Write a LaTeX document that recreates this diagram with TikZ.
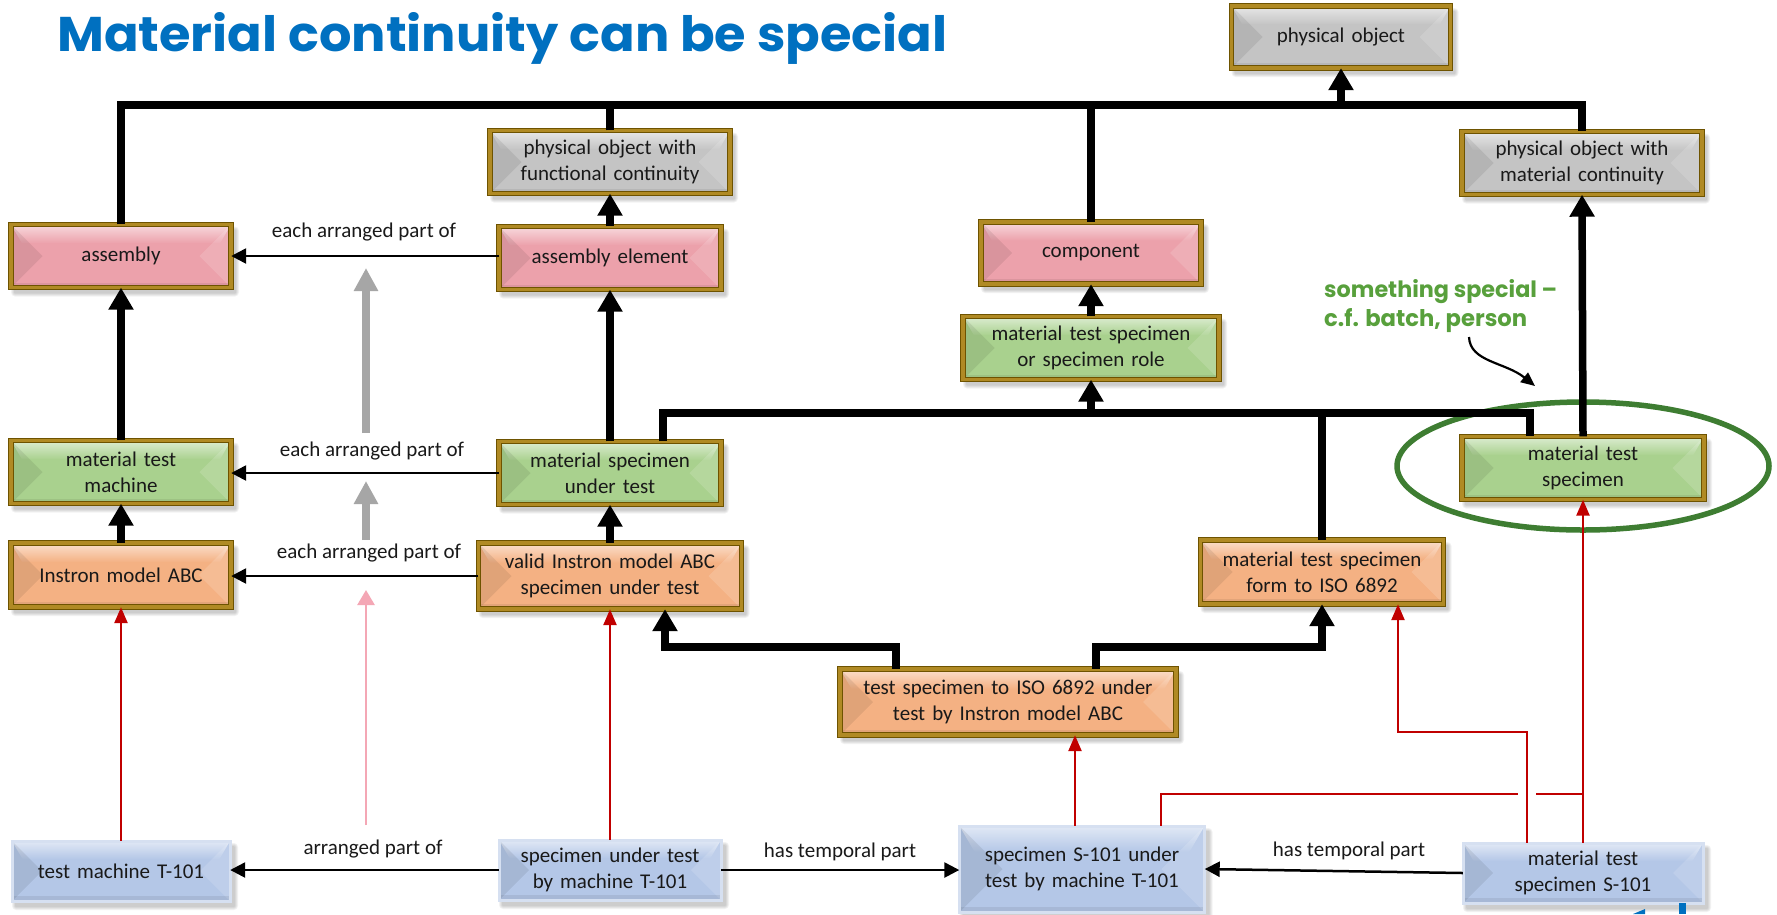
\documentclass[tikz,border=0pt]{standalone}
\usepackage{fontspec}
\usepackage{graphicx}
\setmainfont{Carlito}
\newfontfamily\headfont{Poppins}
\usetikzlibrary{arrows.meta}

\definecolor{titleblue}{HTML}{0070C0}
\definecolor{notegreen}{RGB}{88,160,60}
\definecolor{ringgreen}{RGB}{62,125,50}
\definecolor{golddark}{HTML}{6E5300}
\definecolor{goldmid}{HTML}{B08A24}
\definecolor{grayfill}{HTML}{C4C4C4}
\definecolor{pinkfill}{HTML}{ECA1AB}
\definecolor{greenfill}{HTML}{A9D18E}
\definecolor{orangefill}{HTML}{F4B183}
\definecolor{bluefill}{HTML}{B4C7E7}
\definecolor{blueedge}{HTML}{D6E0F1}
\definecolor{redwire}{HTML}{C00000}
\definecolor{pinkwire}{HTML}{F4A7B5}
\definecolor{graywire}{HTML}{A6A6A6}

\tikzset{
  boxtext/.style={inner sep=0pt, align=center, font=\fontsize{21}{26}\selectfont, text=black!90},
  lbl/.style={inner sep=0pt, anchor=base, font=\fontsize{21}{26}\selectfont, text=black!90},
  goldrim/.style={draw=golddark, line width=5.5pt, postaction={draw=goldmid, line width=3.3pt}},
  bluerim/.style={draw=blueedge, line width=3pt},
  heavy/.style={line width=7.5pt, black},
  heavyarrow/.style={heavy, -{Triangle[length=22pt,width=24pt]}},
  thinarrow/.style={line width=2.5pt, black, -{Triangle[length=15pt,width=15pt]}},
  redarrow/.style={line width=2.5pt, redwire, -{Triangle[length=16pt,width=13pt]}},
  redlink/.style={line width=2.5pt, redwire},
  grayarrow/.style={line width=8pt, graywire, -{Triangle[length=23pt,width=23pt]}},
  pinkarrow/.style={line width=2.5pt, pinkwire, -{Triangle[length=15pt,width=17pt]}},
}

% bevelled box: name, centre x, centre y, width, height, fill, rim style, text
\newcommand\bevbox[8]{%
  \pgfmathsetmacro\bxa{#2-#4/2}%
  \pgfmathsetmacro\bxb{#2+#4/2}%
  \pgfmathsetmacro\bya{#3-#5/2}%
  \pgfmathsetmacro\byb{#3+#5/2}%
  \pgfmathsetmacro\bdd{0.5*#5}%
  \pgfmathsetmacro\bband{0.3*#5}%
  \foreach \k in {1,2,3,4}{%
    \fill[black,opacity=0.05,rounded corners=\k pt] (\bxa+4-\k,\bya+6-\k) rectangle (\bxb+4+\k,\byb+5+\k);}%
  \fill[#6] (\bxa,\bya) rectangle (\bxb,\byb);
  \shade[top color=white!60!#6, bottom color=#6] (\bxa,\bya) -- (\bxb,\bya) -- (\bxb-0.35*\bdd,\bya+\bband) -- (\bxa+0.35*\bdd,\bya+\bband) -- cycle;
  \fill[black,opacity=0.08] (\bxa,\bya) -- (\bxa+\bdd,#3) -- (\bxa,\byb) -- cycle;
  \fill[white,opacity=0.14] (\bxb,\bya) -- (\bxb-\bdd,#3) -- (\bxb,\byb) -- cycle;
  \fill[black,opacity=0.07] (\bxa,\byb-5) rectangle (\bxb,\byb);
  \draw[#7] (\bxa,\bya) rectangle (\bxb,\byb);
  \node[boxtext, minimum width=#4pt, minimum height=#5pt, text width=#4pt] (#1) at (#2,#3) {#8};
}

\begin{document}
\begin{tikzpicture}[x=1pt,y=-1pt]
\useasboundingbox (0,0) rectangle (1777,914);
\fill[white] (0,0) rectangle (1777,914);

% heading
\node[anchor=base west, inner sep=0pt, text=titleblue] (title) at (57,51)
  {\resizebox{890pt}{39pt}{\headfont\bfseries Material continuity can be special}};

% highlight ring
\draw[ringgreen, line width=5.5pt] (1583,466) ellipse [x radius=186, y radius=64];

% boxes
\bevbox{po}{1341}{37}{219}{62}{grayfill}{goldrim}{physical object}
\bevbox{pofc}{610}{162}{240}{63}{grayfill}{goldrim}{physical object with\\functional continuity}
\bevbox{pomc}{1582}{163}{240}{63}{grayfill}{goldrim}{physical object with\\material continuity}
\bevbox{asm}{121}{256}{220}{63}{pinkfill}{goldrim}{assembly}
\bevbox{asme}{610}{258}{222}{63}{pinkfill}{goldrim}{assembly element}
\bevbox{comp}{1091}{253}{220}{62}{pinkfill}{goldrim}{component}
\bevbox{mtsr}{1091}{348}{256}{63}{greenfill}{goldrim}{material test specimen\\or specimen role}
\bevbox{mtm}{121}{472}{220}{63}{greenfill}{goldrim}{material test\\machine}
\bevbox{msut}{610}{473}{222}{63}{greenfill}{goldrim}{material specimen\\under test}
\bevbox{mts}{1583}{468}{242}{63}{greenfill}{goldrim}{material test\\specimen}
\bevbox{inst}{121}{575}{220}{64}{orangefill}{goldrim}{Instron model ABC}
\bevbox{vinst}{610}{576}{263}{66}{orangefill}{goldrim}{valid Instron model ABC\\specimen under test}
\bevbox{form}{1322}{572}{243}{64}{orangefill}{goldrim}{material test specimen\\form to ISO 6892}
\bevbox{tsiso}{1008}{702}{336}{66}{orangefill}{goldrim}{test specimen to ISO 6892 under\\test by Instron model ABC}
\bevbox{tm}{121}{871}{218}{60}{bluefill}{bluerim}{test machine T-101}
\bevbox{sut}{610}{870}{222}{60}{bluefill}{bluerim}{specimen under test\\by machine T-101}
\bevbox{s101}{1082}{869}{245}{86}{bluefill}{bluerim}{specimen S-101 under\\test by machine T-101}
\bevbox{mts101}{1583}{873}{240}{60}{bluefill}{bluerim}{material test\\specimen S-101}

% upper bus to physical object
\coordinate (tb) at (0,105);
\draw[heavy] (asm.north) -- (asm.north |- tb) -- (tb -| pomc.north) -- (pomc.north);
\draw[heavy] (pofc.north) -- (pofc.north |- tb);
\draw[heavy] (comp.north) -- (comp.north |- tb);
\draw[heavyarrow] (po.south |- tb) -- (po.south);

% single heavy links
\draw[heavyarrow] (asme.north) -- (pofc.south);
\draw[heavyarrow] (mtm.north) -- (asm.south);
\draw[heavyarrow] (msut.north) -- (asme.south);
\draw[heavyarrow] (mtsr.north) -- (comp.south);
\draw[heavyarrow] (mts.north) -- (pomc.south);
\draw[heavyarrow] (inst.north) -- (mtm.south);
\draw[heavyarrow] (vinst.north) -- (msut.south);

% middle bus to specimen role
\coordinate (mb) at (0,413);
\coordinate (mbl) at (663,413);
\coordinate (mbr) at (1530,413);
\draw[heavy] (mbl |- msut.north) -- (mbl) -- (mbr) -- (mbr |- mts.north);
\draw[heavy] (form.north) -- (form.north |- mb);
\draw[heavyarrow] (mtsr.south |- mb) -- (mtsr.south);

% lower links from the ISO 6892 test specimen
\coordinate (l1) at (896,647);
\coordinate (l2) at (665,647);
\coordinate (l3) at (1096,647);
\draw[heavyarrow] (l1 |- tsiso.north) -- (l1) -- (l2) -- (l2 |- vinst.south);
\draw[heavyarrow] (l3 |- tsiso.north) -- (l3) -- (form.south |- l3) -- (form.south);

% arrangement relations
\draw[thinarrow] (asm.east -| asme.west) -- (asm.east);
\node[lbl] (lab1) at (364,237) {each arranged part of};
\draw[thinarrow] (msut.west) -- (msut.west -| mtm.east);
\node[lbl] (lab2) at (372,456) {each arranged part of};
\draw[thinarrow] (vinst.west) -- (vinst.west -| inst.east);
\node[lbl] (lab3) at (369,558) {each arranged part of};
\draw[thinarrow] (sut.west) -- (sut.west -| tm.east);
\node[lbl] (lab4) at (373,854) {arranged part of};
\draw[thinarrow] (sut.east) -- (sut.east -| s101.west);
\node[lbl] (lab5) at (840,857) {has temporal part};
\draw[thinarrow] (mts101.west) -- (s101.east);
\node[lbl] (lab6) at (1349,856) {has temporal part};

% level arrows between the relation labels
\coordinate (ga1) at (366,433); \coordinate (gb1) at (366,268);
\coordinate (ga2) at (366,540); \coordinate (gb2) at (366,481);
\coordinate (pa) at (366,825);  \coordinate (pb) at (366,590);
\draw[grayarrow] (ga1) -- (gb1);
\draw[grayarrow] (ga2) -- (gb2);
\draw[pinkarrow] (pa) -- (pb);

% classification (red)
\draw[redarrow] (tm.north) -- (inst.south);
\draw[redarrow] (sut.north) -- (vinst.south);
\coordinate (r1) at (1075,0);
\draw[redarrow] (r1 |- s101.north) -- (r1 |- tsiso.south);
\coordinate (r2) at (1161,794);
\coordinate (gapl) at (1518,794);
\coordinate (gapr) at (1536,794);
\draw[redlink] (r2 |- s101.north) -- (r2) -- (gapl);
\draw[redlink] (gapr) -- (mts101.north |- r2);
\draw[redarrow] (mts101.north) -- (mts.south);
\coordinate (r3) at (1527,732);
\coordinate (r4) at (1398,732);
\draw[redarrow] (r3 |- mts101.north) -- (r3) -- (r4) -- (r4 |- form.south);

% note
\node[anchor=base west, inner sep=0pt, text=notegreen] (note1) at (1324,297)
  {\resizebox{233pt}{18pt}{\headfont\bfseries something special –}};
\node[anchor=base west, inner sep=0pt, text=notegreen] (note2) at (1324,326)
  {\resizebox{203pt}{18pt}{\headfont\bfseries c.f. batch, person}};
\coordinate (ns) at (1469,337);
\coordinate (nt) at (1535,386);
\draw[line width=2.2pt, -{Triangle[length=14pt,width=12pt]}] (ns) .. controls (1470,362) and (1505,362) .. (nt);

% corner mark
\fill[titleblue] (1679,903) rectangle (1686,914);
\fill[titleblue] (1633,914) -- (1645,909) -- (1645,914) -- cycle;
\end{tikzpicture}
\end{document}
